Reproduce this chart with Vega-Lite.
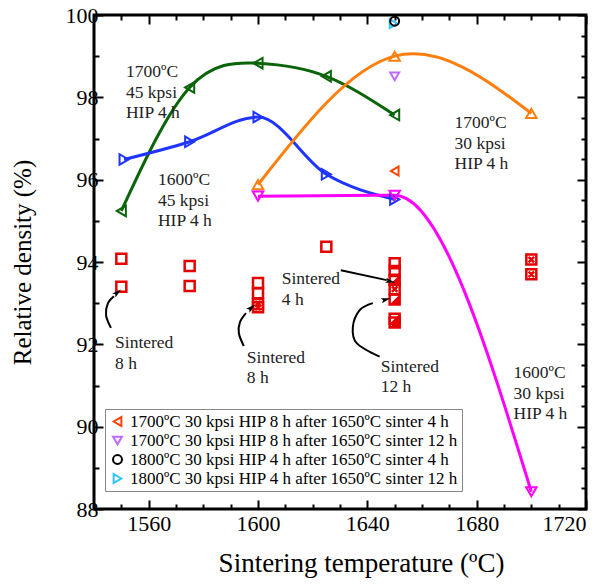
{
  "$schema": "https://vega.github.io/schema/vega-lite/v6.json",
  "width": 492,
  "height": 494,
  "autosize": "none",
  "padding": {"left": 94, "top": 15, "right": 27, "bottom": 75},
  "background": "white",
  "config": {
    "view": {"stroke": "black", "strokeWidth": 3},
    "font": "Liberation Serif"
  },
  "datasets": {
    "curves": [
      {"series": "1700ºC 45 kpsi HIP 4 h", "temp": 1550, "density": 95.24},
      {"series": "1700ºC 45 kpsi HIP 4 h", "temp": 1575, "density": 98.24},
      {"series": "1700ºC 45 kpsi HIP 4 h", "temp": 1600, "density": 98.83},
      {"series": "1700ºC 45 kpsi HIP 4 h", "temp": 1625, "density": 98.51},
      {"series": "1700ºC 45 kpsi HIP 4 h", "temp": 1650, "density": 97.57},
      {"series": "1600ºC 45 kpsi HIP 4 h", "temp": 1551, "density": 96.49},
      {"series": "1600ºC 45 kpsi HIP 4 h", "temp": 1575, "density": 96.92},
      {"series": "1600ºC 45 kpsi HIP 4 h", "temp": 1600, "density": 97.52},
      {"series": "1600ºC 45 kpsi HIP 4 h", "temp": 1625, "density": 96.13},
      {"series": "1600ºC 45 kpsi HIP 4 h", "temp": 1650, "density": 95.52},
      {"series": "1700ºC 30 kpsi HIP 4 h", "temp": 1600, "density": 95.88},
      {"series": "1700ºC 30 kpsi HIP 4 h", "temp": 1650, "density": 99.0},
      {"series": "1700ºC 30 kpsi HIP 4 h", "temp": 1700, "density": 97.61},
      {"series": "1600ºC 30 kpsi HIP 4 h", "temp": 1600, "density": 95.6},
      {"series": "1600ºC 30 kpsi HIP 4 h", "temp": 1650, "density": 95.62},
      {"series": "1600ºC 30 kpsi HIP 4 h", "temp": 1700, "density": 88.42}
    ],
    "sintered": [
      {"temp": 1550, "density": 94.08, "group": "sintered"},
      {"temp": 1550, "density": 93.4, "group": "sintered"},
      {"temp": 1575, "density": 93.9, "group": "sintered"},
      {"temp": 1575, "density": 93.42, "group": "sintered"},
      {"temp": 1600, "density": 93.49, "group": "sintered"},
      {"temp": 1600, "density": 93.24, "group": "sintered"},
      {"temp": 1600, "density": 92.98, "group": "sintered-x"},
      {"temp": 1600, "density": 92.9, "group": "sintered-x"},
      {"temp": 1625, "density": 94.37, "group": "sintered"},
      {"temp": 1650, "density": 93.97, "group": "sintered"},
      {"temp": 1650, "density": 93.78, "group": "sintered"},
      {"temp": 1650, "density": 93.57, "group": "sintered-h"},
      {"temp": 1650, "density": 93.34, "group": "sintered-x"},
      {"temp": 1650, "density": 93.09, "group": "sintered-h"},
      {"temp": 1650, "density": 92.62, "group": "sintered-h"},
      {"temp": 1650, "density": 92.53, "group": "sintered-h"},
      {"temp": 1700, "density": 94.06, "group": "sintered-x"},
      {"temp": 1700, "density": 93.7, "group": "sintered-x"}
    ],
    "extra": [
      {"treatment": "1800ºC 30 kpsi HIP 4 h after 1650ºC sinter 12 h", "temp": 1649.6, "density": 99.79},
      {"treatment": "1800ºC 30 kpsi HIP 4 h after 1650ºC sinter 4 h", "temp": 1650, "density": 99.85},
      {"treatment": "1700ºC 30 kpsi HIP 8 h after 1650ºC sinter 12 h", "temp": 1650, "density": 98.51},
      {"treatment": "1700ºC 30 kpsi HIP 8 h after 1650ºC sinter 4 h", "temp": 1650, "density": 96.21}
    ],
    "notes": [
      {"temp": 1551.7, "density": 98.61, "text": "1700ºC\n45 kpsi\nHIP 4 h"},
      {"temp": 1563.4, "density": 95.99, "text": "1600ºC\n45 kpsi\nHIP 4 h"},
      {"temp": 1671.9, "density": 97.37, "text": "1700ºC\n30 kpsi\nHIP 4 h"},
      {"temp": 1693.5, "density": 91.3, "text": "1600ºC\n30 kpsi\nHIP 4 h"},
      {"temp": 1547.7, "density": 92.03, "text": "Sintered\n8 h"},
      {"temp": 1595.9, "density": 91.67, "text": "Sintered\n8 h"},
      {"temp": 1608.7, "density": 93.58, "text": "Sintered\n4 h"},
      {"temp": 1644.9, "density": 91.45, "text": "Sintered\n12 h"}
    ],
    "arrows": [
      {"arrow": "a1", "i": 1, "temp": 1546.2, "density": 92.4},
      {"arrow": "a1", "i": 2, "temp": 1544.4, "density": 92.71},
      {"arrow": "a1", "i": 3, "temp": 1545.1, "density": 93.0},
      {"arrow": "a1", "i": 4, "temp": 1547.3, "density": 93.17},
      {"arrow": "a2", "i": 1, "temp": 1594.8, "density": 91.96},
      {"arrow": "a2", "i": 2, "temp": 1593.0, "density": 92.27},
      {"arrow": "a2", "i": 3, "temp": 1593.4, "density": 92.54},
      {"arrow": "a2", "i": 4, "temp": 1595.6, "density": 92.76},
      {"arrow": "a3", "i": 1, "temp": 1630.3, "density": 93.8},
      {"arrow": "a3", "i": 2, "temp": 1647.1, "density": 93.56},
      {"arrow": "a4", "i": 1, "temp": 1644.5, "density": 91.7},
      {"arrow": "a4", "i": 2, "temp": 1636.1, "density": 92.03},
      {"arrow": "a4", "i": 3, "temp": 1634.7, "density": 92.42},
      {"arrow": "a4", "i": 4, "temp": 1637.2, "density": 92.83},
      {"arrow": "a4", "i": 5, "temp": 1642.0, "density": 93.0}
    ],
    "heads": [
      {"arrow": "a1", "temp": 1548.6, "density": 93.26},
      {"arrow": "a2", "temp": 1597.6, "density": 92.89},
      {"arrow": "a3", "temp": 1648.4, "density": 93.53},
      {"arrow": "a4", "temp": 1646.8, "density": 93.09}
    ]
  },
  "layer": [
    {
      "data": {"name": "curves"},
      "transform": [{"filter": "datum.series === '1700ºC 45 kpsi HIP 4 h'"}],
      "mark": {"type": "line", "interpolate": "natural", "color": "#0a640a", "strokeWidth": 3, "clip": true},
      "encoding": {
        "x": {
          "field": "temp", "type": "quantitative",
          "scale": {"domain": [1540, 1720], "nice": false, "zero": false},
          "axis": {
            "orient": "bottom",
            "values": [1540, 1550, 1560, 1570, 1580, 1590, 1600, 1610, 1620, 1630, 1640, 1650, 1660, 1670, 1680, 1690, 1700, 1710, 1720],
            "format": "d",
            "labelExpr": "datum.value % 40 === 0 ? datum.label : ''",
            "tickSize": {"condition": {"test": "datum.value % 40 === 0", "value": -9}, "value": -5},
            "tickWidth": 2, "tickColor": "black", "domain": false, "grid": false,
            "labelFont": "Liberation Serif", "labelFontSize": 22, "labelColor": "black", "labelPadding": 13,
            "title": "Sintering temperature (ºC)", "titleFont": "Liberation Serif", "titleFontSize": 27,
            "titleFontWeight": "normal", "titleColor": "black", "titlePadding": 16,
            "titleX": 267, "titleAnchor": "middle"
          }
        },
        "y": {
          "field": "density", "type": "quantitative",
          "scale": {"domain": [88, 100], "nice": false, "zero": false},
          "axis": {
            "orient": "left",
            "values": [88, 88.5, 89, 89.5, 90, 90.5, 91, 91.5, 92, 92.5, 93, 93.5, 94, 94.5, 95, 95.5, 96, 96.5, 97, 97.5, 98, 98.5, 99, 99.5, 100],
            "format": "d",
            "labelExpr": "datum.value % 2 === 0 ? datum.label : ''",
            "tickSize": {"condition": {"test": "datum.value % 2 === 0", "value": -9}, "value": -5},
            "tickWidth": 2, "tickColor": "black", "domain": false, "grid": false,
            "labelFont": "Liberation Serif", "labelFontSize": 22, "labelColor": "black", "labelPadding": 5,
            "title": "Relative density (%)", "titleFont": "Liberation Serif", "titleFontSize": 25,
            "titleFontWeight": "normal", "titleColor": "black", "titlePadding": 30
          }
        }
      }
    },
    {
      "data": {"name": "curves"},
      "transform": [{"filter": "datum.series === '1600ºC 45 kpsi HIP 4 h'"}],
      "mark": {"type": "line", "interpolate": "monotone", "color": "#1f35ff", "strokeWidth": 3, "clip": true},
      "encoding": {
        "x": {
          "field": "temp", "type": "quantitative",
          "axis": {
            "orient": "top",
            "values": [1540, 1550, 1560, 1570, 1580, 1590, 1600, 1610, 1620, 1630, 1640, 1650, 1660, 1670, 1680, 1690, 1700, 1710, 1720],
            "labels": false, "title": null,
            "tickSize": {"condition": {"test": "datum.value % 40 === 0", "value": -9}, "value": -5},
            "tickWidth": 2, "tickColor": "black", "domain": false, "grid": false
          }
        },
        "y": {
          "field": "density", "type": "quantitative",
          "axis": {
            "orient": "right",
            "values": [88, 88.5, 89, 89.5, 90, 90.5, 91, 91.5, 92, 92.5, 93, 93.5, 94, 94.5, 95, 95.5, 96, 96.5, 97, 97.5, 98, 98.5, 99, 99.5, 100],
            "labels": false, "title": null,
            "tickSize": {"condition": {"test": "datum.value % 2 === 0", "value": -9}, "value": -5},
            "tickWidth": 2, "tickColor": "black", "domain": false, "grid": false
          }
        }
      }
    },
    {
      "data": {"name": "curves"},
      "transform": [{"filter": "datum.series === '1700ºC 30 kpsi HIP 4 h'"}],
      "mark": {"type": "line", "interpolate": "natural", "color": "#ff7f0e", "strokeWidth": 3, "clip": true},
      "encoding": {
        "x": {"field": "temp", "type": "quantitative", "axis": null},
        "y": {"field": "density", "type": "quantitative", "axis": null}
      }
    },
    {
      "data": {"name": "curves"},
      "transform": [{"filter": "datum.series === '1600ºC 30 kpsi HIP 4 h'"}],
      "mark": {"type": "line", "interpolate": "monotone", "color": "#ff00ff", "strokeWidth": 3, "clip": true},
      "encoding": {
        "x": {"field": "temp", "type": "quantitative", "axis": null},
        "y": {"field": "density", "type": "quantitative", "axis": null}
      }
    },
    {
      "data": {"name": "curves"},
      "mark": {"type": "point", "filled": false, "strokeWidth": 2, "size": 110, "opacity": 1},
      "encoding": {
        "x": {"field": "temp", "type": "quantitative", "axis": null},
        "y": {"field": "density", "type": "quantitative", "axis": null},
        "color": {
          "field": "series", "type": "nominal", "legend": null,
          "scale": {"domain": ["1700ºC 45 kpsi HIP 4 h", "1600ºC 45 kpsi HIP 4 h", "1700ºC 30 kpsi HIP 4 h", "1600ºC 30 kpsi HIP 4 h"],
                    "range": ["#0a640a", "#1f35ff", "#ff7f0e", "#ff00ff"]}
        },
        "shape": {
          "field": "series", "type": "nominal", "legend": null,
          "scale": {"domain": ["1700ºC 45 kpsi HIP 4 h", "1600ºC 45 kpsi HIP 4 h", "1700ºC 30 kpsi HIP 4 h", "1600ºC 30 kpsi HIP 4 h"],
                    "range": ["triangle-left", "triangle-right", "triangle-up", "triangle-down"]}
        },
        "size": {
          "field": "series", "type": "nominal", "legend": null,
          "scale": {"domain": ["1700ºC 45 kpsi HIP 4 h", "1600ºC 45 kpsi HIP 4 h", "1700ºC 30 kpsi HIP 4 h", "1600ºC 30 kpsi HIP 4 h"],
                    "range": [110, 110, 170, 150]}
        }
      }
    },
    {
      "data": {"name": "sintered"},
      "mark": {"type": "point", "filled": false, "strokeWidth": 2.5, "size": 100, "color": "#e60000", "opacity": 1},
      "encoding": {
        "x": {"field": "temp", "type": "quantitative", "axis": null},
        "y": {"field": "density", "type": "quantitative", "axis": null},
        "shape": {
          "field": "group", "type": "nominal", "legend": null,
          "scale": {"domain": ["sintered", "sintered-x", "sintered-h"],
                    "range": ["square", "M-1,-1H1V1H-1Z M-0.55,-0.55L0.55,0.55 M0.55,-0.55L-0.55,0.55", "square"]}
        }
      }
    },
    {
      "data": {"name": "sintered"},
      "transform": [{"filter": "datum.group === 'sintered-h'"}],
      "mark": {"type": "point", "filled": true, "size": 100, "color": "#e60000", "opacity": 1, "shape": "M1,-1L1,1L-1,1Z"},
      "encoding": {
        "x": {"field": "temp", "type": "quantitative", "axis": null},
        "y": {"field": "density", "type": "quantitative", "axis": null}
      }
    },
    {
      "data": {"name": "extra"},
      "mark": {"type": "point", "filled": false, "strokeWidth": 2, "size": 80, "opacity": 1},
      "encoding": {
        "x": {"field": "temp", "type": "quantitative", "axis": null},
        "y": {"field": "density", "type": "quantitative", "axis": null},
        "color": {
          "field": "treatment", "type": "nominal",
          "scale": {"domain": ["1700ºC 30 kpsi HIP 8 h after 1650ºC sinter 4 h", "1700ºC 30 kpsi HIP 8 h after 1650ºC sinter 12 h", "1800ºC 30 kpsi HIP 4 h after 1650ºC sinter 4 h", "1800ºC 30 kpsi HIP 4 h after 1650ºC sinter 12 h"],
                    "range": ["#ff4500", "#bf6bff", "#000000", "#33c4ff"]},
          "legend": {
            "orient": "none", "legendX": 11, "legendY": 394, "title": null,
            "direction": "vertical",
            "labelFont": "Liberation Serif", "labelFontSize": 17, "labelColor": "black", "labelLimit": 0,
            "symbolStrokeWidth": 2, "symbolSize": 80, "symbolFillColor": "transparent",
            "rowPadding": 1, "padding": 4, "labelOffset": 4,
            "strokeColor": "#888888", "fillColor": "white", "cornerRadius": 0
          }
        },
        "shape": {
          "field": "treatment", "type": "nominal",
          "scale": {"domain": ["1700ºC 30 kpsi HIP 8 h after 1650ºC sinter 4 h", "1700ºC 30 kpsi HIP 8 h after 1650ºC sinter 12 h", "1800ºC 30 kpsi HIP 4 h after 1650ºC sinter 4 h", "1800ºC 30 kpsi HIP 4 h after 1650ºC sinter 12 h"],
                    "range": ["triangle-left", "triangle-down", "circle", "triangle-right"]}
        }
      }
    },
    {
      "data": {"name": "notes"},
      "mark": {"type": "text", "align": "left", "baseline": "middle", "font": "Liberation Serif", "fontSize": 17.5, "lineBreak": "\n", "lineHeight": 20.5, "color": "#222222"},
      "encoding": {
        "x": {"field": "temp", "type": "quantitative", "axis": null},
        "y": {"field": "density", "type": "quantitative", "axis": null},
        "text": {"field": "text"}
      }
    },
    {
      "data": {"name": "arrows"},
      "mark": {"type": "line", "interpolate": "cardinal", "color": "black", "strokeWidth": 2},
      "encoding": {
        "x": {"field": "temp", "type": "quantitative", "axis": null},
        "y": {"field": "density", "type": "quantitative", "axis": null},
        "detail": {"field": "arrow"},
        "order": {"field": "i", "type": "quantitative"}
      }
    },
    {
      "data": {"name": "heads"},
      "transform": [{"filter": "datum.arrow === 'a1'"}],
      "mark": {"type": "point", "filled": true, "color": "black", "opacity": 1, "size": 90, "angle": 51, "shape": "M0,-1L0.55,1L0,0.6L-0.55,1Z"},
      "encoding": {
        "x": {"field": "temp", "type": "quantitative", "axis": null},
        "y": {"field": "density", "type": "quantitative", "axis": null}
      }
    },
    {
      "data": {"name": "heads"},
      "transform": [{"filter": "datum.arrow === 'a2'"}],
      "mark": {"type": "point", "filled": true, "color": "black", "opacity": 1, "size": 90, "angle": 49, "shape": "M0,-1L0.55,1L0,0.6L-0.55,1Z"},
      "encoding": {
        "x": {"field": "temp", "type": "quantitative", "axis": null},
        "y": {"field": "density", "type": "quantitative", "axis": null}
      }
    },
    {
      "data": {"name": "heads"},
      "transform": [{"filter": "datum.arrow === 'a3'"}],
      "mark": {"type": "point", "filled": true, "color": "black", "opacity": 1, "size": 90, "angle": 103, "shape": "M0,-1L0.55,1L0,0.6L-0.55,1Z"},
      "encoding": {
        "x": {"field": "temp", "type": "quantitative", "axis": null},
        "y": {"field": "density", "type": "quantitative", "axis": null}
      }
    },
    {
      "data": {"name": "heads"},
      "transform": [{"filter": "datum.arrow === 'a4'"}],
      "mark": {"type": "point", "filled": true, "color": "black", "opacity": 1, "size": 90, "angle": 75, "shape": "M0,-1L0.55,1L0,0.6L-0.55,1Z"},
      "encoding": {
        "x": {"field": "temp", "type": "quantitative", "axis": null},
        "y": {"field": "density", "type": "quantitative", "axis": null}
      }
    }
  ],
  "resolve": {
    "scale": {"color": "independent", "shape": "independent", "size": "independent"},
    "axis": {"x": "independent", "y": "independent"}
  }
}
